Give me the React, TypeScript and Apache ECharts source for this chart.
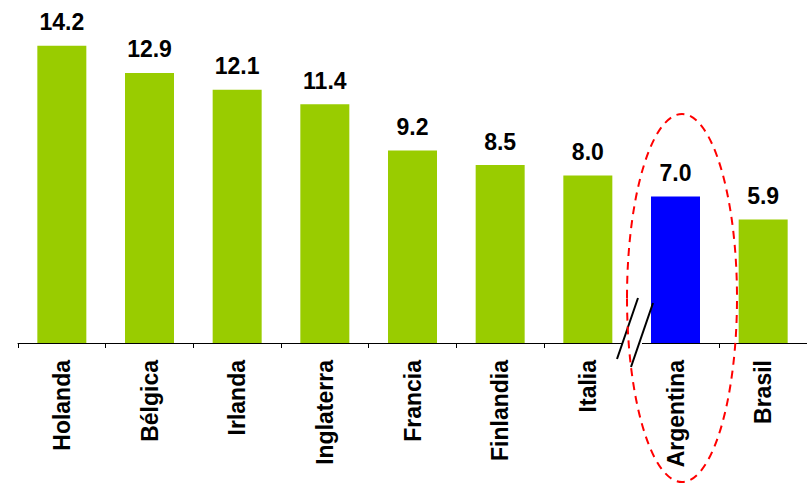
import React, { useEffect, useRef } from "react";
import * as echarts from "echarts";

const categories = ["Holanda", "Bélgica", "Irlanda", "Inglaterra", "Francia", "Finlandia", "Italia", "Argentina", "Brasil"];
const values = [14.2, 12.9, 12.1, 11.4, 9.2, 8.5, 8.0, 7.0, 5.9];
const highlight = "Argentina";

const GREEN = "#99CC00";
const BLUE = "#0000FF";
const FONT = "'Liberation Sans', Arial, sans-serif";

export default function App() {
  const ref = useRef<HTMLDivElement>(null);
  useEffect(() => {
    if (!ref.current) return;
    const chart = echarts.init(ref.current, undefined, { renderer: "svg" });
    chart.setOption({
      animation: false,
      backgroundColor: "#ffffff",
      grid: { left: 18, top: 8, width: 793, height: 335, containLabel: false },
      xAxis: {
        type: "category",
        data: categories,
        axisLine: { lineStyle: { color: "#000", width: 1 } },
        axisTick: { show: true, length: 5, lineStyle: { color: "#000", width: 1 } },
        axisLabel: {
          interval: 0,
          rotate: 90,
          margin: 17,
          fontSize: 23,
          fontWeight: "bold",
          fontFamily: FONT,
          color: "#000",
        },
      },
      yAxis: {
        type: "value",
        min: 0,
        max: 16,
        show: false,
        splitLine: { show: false },
      },
      series: [
        {
          type: "bar",
          barWidth: 49,
          data: values.map((v, i) => ({
            value: v,
            itemStyle: { color: categories[i] === highlight ? BLUE : GREEN },
          })),
          label: {
            show: true,
            position: "top",
            distance: 12,
            fontSize: 23,
            fontWeight: "bold",
            fontFamily: FONT,
            color: "#000",
            formatter: (p: any) => Number(p.value).toFixed(1),
          },
        },
      ],
      graphic: [
        {
          type: "rect",
          z: 100,
          shape: { x: 622, y: 340, width: 20, height: 8 },
          style: { fill: "#fff" },
        },
        {
          type: "line",
          z: 101,
          shape: { x1: 617, y1: 359, x2: 638, y2: 298 },
          style: { stroke: "#000", lineWidth: 2 },
        },
        {
          type: "line",
          z: 101,
          shape: { x1: 631, y1: 367, x2: 653, y2: 303 },
          style: { stroke: "#000", lineWidth: 2 },
        },
        {
          type: "ellipse",
          z: 102,
          shape: { cx: 682, cy: 298, rx: 55, ry: 184 },
          style: { fill: "none", stroke: "#FF0000", lineWidth: 2, lineDash: [8, 6] },
        },
      ],
    });
    return () => chart.dispose();
  }, []);
  return <div ref={ref} style={{ width: 807, height: 483, position: "absolute", left: 0, top: 0 }} />;
}
